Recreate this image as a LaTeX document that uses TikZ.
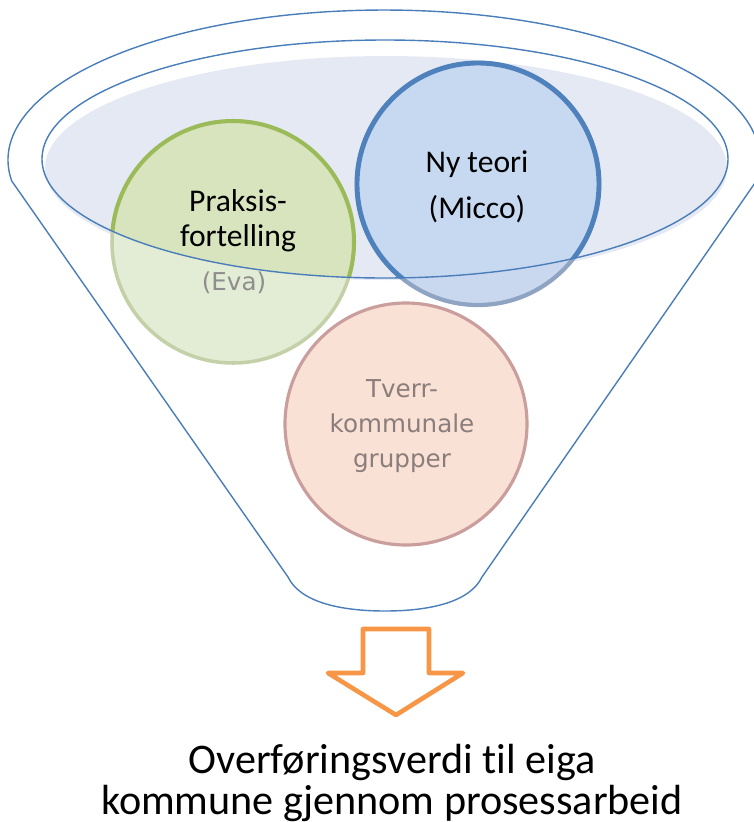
\documentclass[tikz,border=0pt]{standalone}
\usepackage{xcolor}
\usepackage{fontspec}
\setmainfont{Carlito}[Ligatures=NoCommon]
\newfontfamily\greyfont{DejaVu Sans}
\usetikzlibrary{positioning}
\definecolor{rimblue}{HTML}{4A7EBB}
\definecolor{rimfill}{HTML}{E5E9F3}
\definecolor{praksisgreen}{HTML}{9BBB59}
\definecolor{praksisfill}{HTML}{D7E4BD}
\definecolor{praksisfade}{HTML}{C3D0A8}
\definecolor{praksisfadefill}{HTML}{E3ECD4}
\definecolor{teoriblue}{HTML}{4F81BD}
\definecolor{teorifill}{HTML}{C6D9F1}
\definecolor{teorifade}{HTML}{8FA4C2}
\definecolor{teorifadefill}{HTML}{C9D8EE}
\definecolor{gruppefade}{HTML}{CA9E9C}
\definecolor{gruppefill}{HTML}{FAE1D5}
\definecolor{arroworange}{HTML}{F79646}
\definecolor{fadetext}{HTML}{8E8E8E}
\definecolor{fadetextred}{HTML}{8A7D7B}

\tikzset{
  rimline/.style={rimblue, line width=0.8pt},
  labeltext/.style={black, align=center, font=\fontsize{18}{20}\selectfont},
  fadedlabel/.style={align=center, font=\greyfont\fontsize{14}{20}\selectfont},
}

\begin{document}
\begin{tikzpicture}[x=0.02cm, y=-0.02cm]
  \useasboundingbox (0,0) rectangle (754,822);
  \clip (0,0) rectangle (754,822);

  % light inside of the funnel rim
  \fill[rimfill] (386,168) ellipse [x radius=341, y radius=112];

  % faded circles (the parts below the rim)
  \fill[praksisfadefill] (233,242) circle [radius=121];
  \draw[praksisfade, line width=2pt] (233,242) circle [radius=121];
  \fill[teorifadefill] (478,184) circle [radius=121];
  \draw[teorifade, line width=2.4pt] (478,184) circle [radius=121];
  \fill[gruppefill] (406,424) circle [radius=121];
  \draw[gruppefade, line width=1.8pt] (406,424) circle [radius=121];

  % full colour inside the rim
  \begin{scope}
    \clip (385,159) ellipse [x radius=343, y radius=119];
    \fill[praksisfill] (233,242) circle [radius=121];
    \draw[praksisgreen, line width=2.3pt] (233,242) circle [radius=121];
    \fill[teorifill] (478,184) circle [radius=121];
    \draw[teoriblue, line width=2.8pt] (478,184) circle [radius=121];
  \end{scope}

  % circle labels
  \node[labeltext] (praksis) at (238,221) {Praksis-\\fortelling};
  \node[fadedlabel, fadetext] (eva) at (234,283) {(Eva)};
  \node[labeltext, font=\fontsize{18}{26}\selectfont] (teori) at (477,187) {Ny teori\\(Micco)};
  \node[fadedlabel, fadetextred] (grupper) at (402,426) {Tverr-\\kommunale\\grupper};

  % funnel outline and rim
  \draw[rimline] (11.7,180.9) arc [start angle=172, end angle=368, x radius=376, y radius=150]
    -- (482,577) .. controls (470,602) and (430,611) .. (385,611)
    .. controls (340,611) and (300,602) .. (288,577) -- cycle;
  \draw[rimline] (385,159) ellipse [x radius=343, y radius=119];

  % hollow arrow down
  \draw[arroworange, line width=2.6pt, line join=round]
    (363,629) -- (429,629) -- (429,673) -- (463,673) -- (396,715)
    -- (328,673) -- (363,673) -- cycle;

  \node[black, align=center, font=\fontsize{24}{22.8}\selectfont] (verdi) at (392,783)
    {Overføringsverdi til eiga\\kommune gjennom prosessarbeid};
\end{tikzpicture}
\end{document}
